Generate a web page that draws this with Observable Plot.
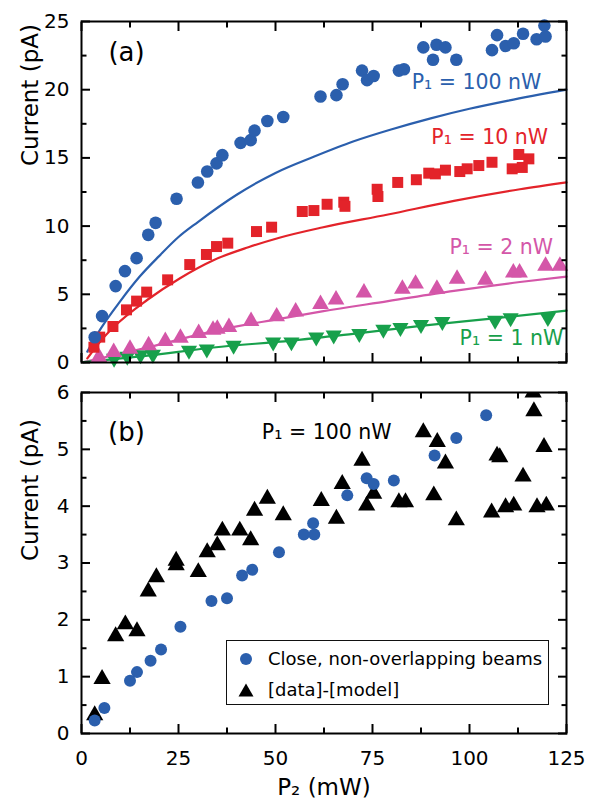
<!DOCTYPE html>
<html><head><meta charset="utf-8">
<script src="https://cdn.jsdelivr.net/npm/d3@7"></script>
<script src="https://cdn.jsdelivr.net/npm/@observablehq/plot@0.6"></script>
<style>
body{margin:0;background:#fff;}
#wrap{position:relative;width:592px;height:802px;font-family:"DejaVu Sans",sans-serif;color:#000;}
#wrap svg{display:block;}
#legend{position:absolute;left:226px;top:640px;width:323px;height:65px;box-sizing:border-box;border:1.5px solid #111;background:#fff;font-size:18px;}
.row{position:absolute;left:0;height:24px;line-height:24px;white-space:nowrap;}
.row svg{position:absolute;left:11px;top:5px;}
.row span{position:absolute;left:41px;top:0;}
</style></head>
<body><div id="wrap"></div>
<script>
// ---- Panel (a): current vs P2 for several P1 ----
const circles100 = [[3.4,1.85],[5.3,3.4],[8.8,5.6],[11.2,6.7],[14.2,7.65],[17.2,9.36],[19.1,10.24],[24.5,12.0],[30,13.2],[32.4,14.0],[34.8,14.6],[36.3,15.2],[41,16.1],[43.6,16.3],[44.6,17.0],[47.9,17.7],[52,18.0],[61.6,19.5],[65.7,19.6],[67.3,20.4],[72.3,21.4],[73.6,20.7],[75.3,21.0],[81.8,21.4],[83.1,21.5],[88.1,23.1],[90.6,22.2],[91.5,23.3],[93.8,23.1],[96.6,22.2],[105.8,22.9],[107.1,24.0],[109.3,23.2],[111.4,23.4],[113.8,24.1],[117.3,23.7],[119.3,24.7],[119.6,23.9]];
const squares10 = [[3.2,1.12],[4.7,1.86],[8.1,2.64],[11.6,3.86],[14.2,4.5],[16.8,5.16],[22.2,6.06],[27.9,7.18],[32.2,7.92],[34.8,8.5],[37.7,8.75],[45.1,9.6],[49,9.92],[56.9,11.07],[59.9,11.14],[63.3,11.6],[67.6,11.75],[67.9,11.45],[76.2,12.7],[76.4,12.17],[81.5,13.2],[86.3,13.4],[89.5,13.88],[91.2,13.83],[93.8,14.1],[97.5,14.0],[99.4,14.2],[102.4,14.44],[105.8,14.68],[111,14.2],[113.6,14.3],[112.7,15.25],[115.3,14.93]];
const triangles2 = [[4.5,0.39],[8.3,0.76],[12.5,1.0],[17.3,1.25],[21.6,1.56],[25.5,1.81],[30.2,2.15],[33.9,2.39],[35,2.46],[38,2.59],[43.7,3.03],[50.3,3.37],[55.2,3.72],[61.6,4.28],[65.6,4.6],[72.8,5.12],[82.7,5.4],[86.1,5.77],[91.6,5.4],[96.8,6.13],[104.1,6.06],[111.3,6.58],[112.9,6.58],[119.6,7.08],[123.3,7.08]];
const downs1 = [[8.4,0.3],[11.8,0.45],[15.2,0.55],[18.4,0.6],[27.7,0.88],[32.3,0.97],[39.2,1.25],[49.4,1.49],[54.1,1.5],[60.5,1.86],[65,2.0],[71.6,2.12],[77.8,2.42],[82.2,2.56],[87.5,2.77],[93,3.0],[106.6,3.08],[110.6,3.26],[120.2,3.28]];
const model100 = [[1.5,0.8],[5,2.5],[10,4.5],[15,6.3],[20,7.8],[25,9.2],[30,10.3],[40,12.3],[50,13.9],[60,15.1],[70,16.2],[80,17.1],[90,17.9],[100,18.6],[110,19.2],[125,20.0]];
const model10 = [[1.5,0.3],[5,1.6],[8.3,2.6],[17,4.6],[25.5,6.2],[34,7.5],[43,8.45],[51,9.15],[62,9.9],[79,10.85],[96,11.85],[113,12.7],[125,13.2]];
const model2 = [[0.5,0.03],[17,1.1],[34,2.3],[51,3.2],[62,3.75],[79,4.5],[96,5.25],[113,5.9],[125,6.3]];
const model1 = [[0.5,0.02],[17,0.5],[34,1.1],[54,1.6],[70,2.1],[88,2.7],[105,3.2],[125,3.8]];
const labelsA = [
  {t:"P₁ = 100 nW", x:101.8, y:20.5, c:"#2b5fad"},
  {t:"P₁ = 10 nW", x:105.2, y:16.5, c:"#e3232a"},
  {t:"P₁ = 2 nW", x:108.2, y:8.43, c:"#d456a8"},
  {t:"P₁ = 1 nW", x:110.8, y:1.76, c:"#17a04b"}
];
// ---- Panel (b) ----
const circlesB = [[3.4,0.23],[5.9,0.45],[12.5,0.93],[14.3,1.08],[17.8,1.28],[20.5,1.48],[25.5,1.88],[33.5,2.33],[37.5,2.38],[41.4,2.78],[44,2.88],[50.9,3.19],[57.3,3.5],[59.7,3.7],[60,3.5],[68.5,4.19],[73.5,4.49],[75.3,4.39],[80.5,4.45],[91,4.89],[96.6,5.2],[104.3,5.6]];
const trianglesB = [[3.4,0.32],[5.3,0.96],[8.8,1.71],[11.3,1.92],[14.3,1.8],[17.2,2.5],[19.3,2.75],[24.4,2.96],[24.4,3.04],[30.1,2.84],[32.4,3.19],[35,3.31],[36.3,3.57],[40.8,3.57],[43.6,3.4],[44.6,3.92],[47.9,4.13],[52,3.84],[61.8,4.09],[65.7,3.78],[67.2,4.39],[72.3,4.8],[73.5,4.01],[75.3,4.22],[81.8,4.07],[83.5,4.07],[88.1,5.3],[90.8,4.19],[91.7,5.13],[93.8,4.75],[96.6,3.75],[105.7,3.89],[107.1,4.89],[107.8,4.86],[109.3,3.98],[111.4,4.01],[113.8,4.52],[116.4,6.0],[116.6,5.67],[117.4,3.98],[119.2,5.04],[119.8,4.01]];
const xMajor = [0,25,50,75,100,125];
const xMinor = [12.5,37.5,62.5,87.5,112.5];
const yMajorA = [0,5,10,15,20,25];
const yMinorA = [2.5,7.5,12.5,17.5,22.5];
const yMajorB = [0,1,2,3,4,5,6];
const yMinorB = [0.5,1.5,2.5,3.5,4.5,5.5];

const BLUE="#2b5fad", RED="#e3232a", PINK="#d456a8", GREEN="#17a04b";
const downTri = {draw(ctx,size){const s3=Math.sqrt(3);const y=-Math.sqrt(size/(s3*3));ctx.moveTo(0,-2*y);ctx.lineTo(-s3*y,y);ctx.lineTo(s3*y,y);ctx.closePath();}};

function frameTicks(yMaj, yMin, xLabels){
  const m = [];
  const sw = 2, none = () => "";
  // inward ticks: outward axis ticks shifted back inside the frame
  const L = 9, S = 5.5;
  m.push(Plot.axisY({ticks:yMaj, anchor:"left", tickSize:L, dx:L, strokeWidth:sw, tickFormat:none, label:null}));
  m.push(Plot.axisY({ticks:yMin, anchor:"left", tickSize:S, dx:S, strokeWidth:sw, tickFormat:none, label:null}));
  m.push(Plot.axisY({ticks:yMaj, anchor:"right", tickSize:L, dx:-L, strokeWidth:sw, tickFormat:none, label:null}));
  m.push(Plot.axisY({ticks:yMin, anchor:"right", tickSize:S, dx:-S, strokeWidth:sw, tickFormat:none, label:null}));
  m.push(Plot.axisX({ticks:xMajor, anchor:"bottom", tickSize:L, dy:-L, strokeWidth:sw, tickFormat:none, label:null}));
  m.push(Plot.axisX({ticks:xMinor, anchor:"bottom", tickSize:S, dy:-S, strokeWidth:sw, tickFormat:none, label:null}));
  m.push(Plot.axisX({ticks:xMajor, anchor:"top", tickSize:L, dy:L, strokeWidth:sw, tickFormat:none, label:null}));
  m.push(Plot.axisX({ticks:xMinor, anchor:"top", tickSize:S, dy:S, strokeWidth:sw, tickFormat:none, label:null}));
  // labels
  m.push(Plot.axisY({ticks:yMaj, anchor:"left", tickSize:0, tickPadding:12, label:null, fontSize:20, tickFormat:d=>String(d)}));
  if (xLabels) m.push(Plot.axisX({ticks:xMajor, anchor:"bottom", tickSize:0, tickPadding:17, label:null, fontSize:20, tickFormat:d=>String(d)}));
  return m;
}
const style = {fontFamily:"DejaVu Sans", fontSize:"20px", color:"black", background:"white", overflow:"visible"};

const plotA = Plot.plot({
  width:592, height:372, marginLeft:81, marginRight:26, marginTop:21, marginBottom:10,
  style,
  x:{domain:[0,125]}, y:{domain:[0,25]},
  marks:[
    Plot.line(model100,{x:d=>d[0], y:d=>d[1], stroke:BLUE, strokeWidth:2.2, curve:"monotone-x"}),
    Plot.line(model10,{x:d=>d[0], y:d=>d[1], stroke:RED, strokeWidth:2.2, curve:"monotone-x"}),
    Plot.line(model2,{x:d=>d[0], y:d=>d[1], stroke:PINK, strokeWidth:2.2, curve:"monotone-x"}),
    Plot.line(model1,{x:d=>d[0], y:d=>d[1], stroke:GREEN, strokeWidth:2.2, curve:"monotone-x"}),
    Plot.dot(downs1,{x:d=>d[0], y:d=>d[1], symbol:downTri, r:6, fill:GREEN, stroke:null}),
    Plot.dot(triangles2,{x:d=>d[0], y:d=>d[1], symbol:"triangle", r:6.2, fill:PINK, stroke:null}),
    Plot.dot(squares10,{x:d=>d[0], y:d=>d[1], symbol:"square", r:6.2, fill:RED, stroke:null}),
    Plot.dot(circles100,{x:d=>d[0], y:d=>d[1], r:6.3, fill:BLUE, stroke:null}),
    Plot.text(labelsA,{x:"x", y:"y", text:"t", fill:"c", fontSize:20.5, textAnchor:"middle"}),
    Plot.text(["(a)"],{x:11.6, y:22.7, text:d=>d, fontSize:26}),
    Plot.text(["Current (pA)"],{frameAnchor:"left", text:d=>d, rotate:-90, dx:-51, dy:-26, fontSize:23}),
    ...frameTicks(yMajorA, yMinorA, false),
    Plot.frame({stroke:"black", strokeWidth:2})
  ]
});

const plotB = Plot.plot({
  width:592, height:430, marginLeft:81, marginRight:26, marginTop:20, marginBottom:69,
  style,
  x:{domain:[0,125]}, y:{domain:[0,6]},
  marks:[
    Plot.dot(trianglesB,{x:d=>d[0], y:d=>d[1], symbol:"triangle", r:6.4, fill:"black", stroke:null, clip:true}),
    Plot.dot(circlesB,{x:d=>d[0], y:d=>d[1], r:6, fill:BLUE, stroke:null}),
    Plot.text(["(b)"],{x:11.6, y:5.3, text:d=>d, fontSize:26}),
    Plot.text(["P₁ = 100 nW"],{x:63.2, y:5.3, text:d=>d, fontSize:20.5, fill:"black"}),
    Plot.text(["Current (pA)"],{frameAnchor:"left", text:d=>d, rotate:-90, dx:-51, dy:-2, fontSize:23}),
    Plot.text(["P₂ (mW)"],{frameAnchor:"bottom", text:d=>d, dy:61, fontSize:23}),
    ...frameTicks(yMajorB, yMinorB, true),
    Plot.frame({stroke:"black", strokeWidth:2})
  ]
});

const wrap = document.getElementById("wrap");
wrap.append(plotA, plotB);
const legend = document.createElement("div");
legend.id = "legend";
legend.innerHTML =
 '<div class="row" style="top:6px"><svg width="16" height="14"><circle cx="8" cy="7" r="6" fill="'+BLUE+'"/></svg><span>Close, non-overlapping beams</span></div>' +
 '<div class="row" style="top:37px"><svg width="16" height="14"><path d="M8,0.5L15.5,13.5L0.5,13.5Z" fill="black"/></svg><span>[data]-[model]</span></div>';
wrap.append(legend);
</script></body></html>
